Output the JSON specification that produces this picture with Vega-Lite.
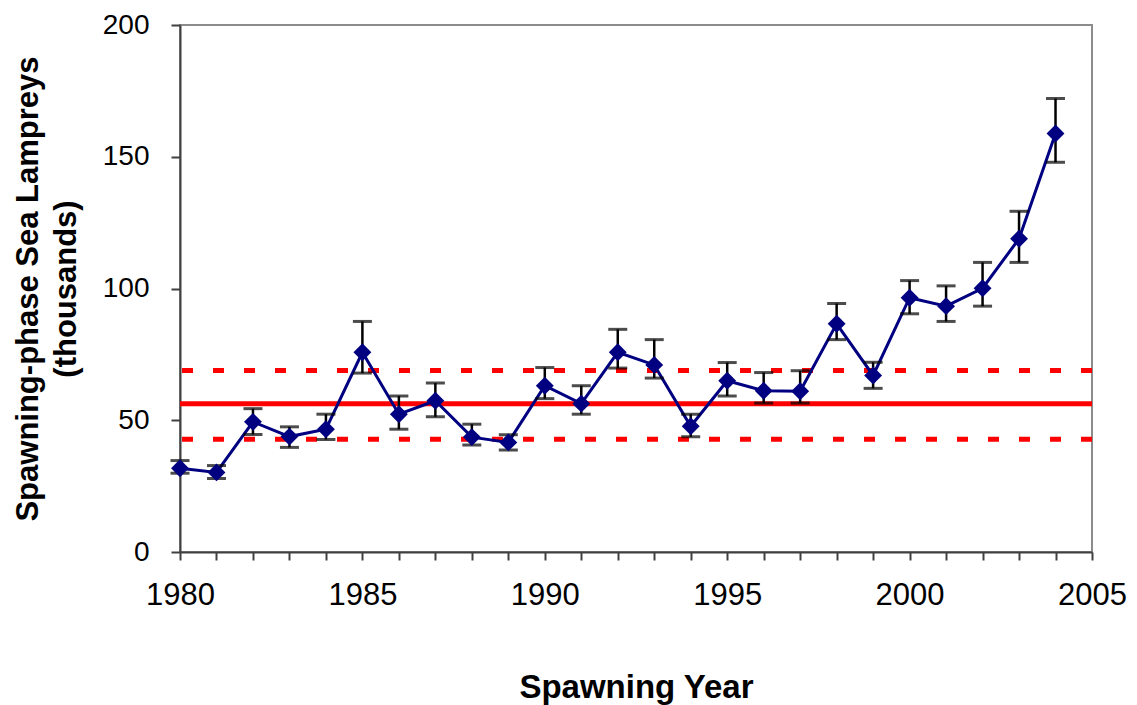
{
  "$schema": "https://vega.github.io/schema/vega-lite/v6.json",
  "width": 912,
  "height": 527,
  "autosize": "none",
  "padding": {"left": 180, "top": 25, "right": 45, "bottom": 153},
  "background": "white",
  "config": {
    "view": {"stroke": "#8c8c8c", "strokeWidth": 2},
    "font": "Liberation Sans",
    "axis": {"grid": false, "domainColor": "#404040", "domainWidth": 2, "tickColor": "#404040", "tickWidth": 2, "labelColor": "black", "titleColor": "black", "labelFont": "Liberation Sans", "titleFont": "Liberation Sans", "labelOverlap": false}
  },
  "datasets": {
    "series": [
      {"year": 1980, "value": 31.8, "lo": 29.9, "hi": 34.7},
      {"year": 1981, "value": 30.2, "lo": 27.9, "hi": 32.8},
      {"year": 1982, "value": 49.4, "lo": 44.6, "hi": 54.4},
      {"year": 1983, "value": 43.8, "lo": 39.7, "hi": 47.5},
      {"year": 1984, "value": 46.6, "lo": 42.7, "hi": 52.3},
      {"year": 1985, "value": 75.8, "lo": 67.9, "hi": 87.5},
      {"year": 1986, "value": 52.3, "lo": 46.6, "hi": 59.2},
      {"year": 1987, "value": 57.4, "lo": 51.3, "hi": 64.1},
      {"year": 1988, "value": 43.6, "lo": 40.6, "hi": 48.5},
      {"year": 1989, "value": 41.6, "lo": 38.7, "hi": 44.5},
      {"year": 1990, "value": 63.1, "lo": 58.2, "hi": 70.0},
      {"year": 1991, "value": 56.3, "lo": 52.3, "hi": 63.1},
      {"year": 1992, "value": 75.8, "lo": 69.8, "hi": 84.5},
      {"year": 1993, "value": 71.0, "lo": 66.0, "hi": 80.6},
      {"year": 1994, "value": 47.7, "lo": 43.7, "hi": 52.3},
      {"year": 1995, "value": 65.0, "lo": 59.2, "hi": 71.9},
      {"year": 1996, "value": 61.2, "lo": 56.5, "hi": 68.1},
      {"year": 1997, "value": 61.0, "lo": 56.5, "hi": 68.8},
      {"year": 1998, "value": 86.6, "lo": 80.6, "hi": 94.3},
      {"year": 1999, "value": 67.0, "lo": 62.1, "hi": 72.0},
      {"year": 2000, "value": 96.5, "lo": 90.4, "hi": 103.0},
      {"year": 2001, "value": 93.3, "lo": 87.5, "hi": 101.0},
      {"year": 2002, "value": 100.1, "lo": 93.3, "hi": 109.9},
      {"year": 2003, "value": 118.9, "lo": 109.9, "hi": 129.3},
      {"year": 2004, "value": 158.8, "lo": 147.9, "hi": 172.1}
    ],
    "refs": [
      {"level": 56.3, "kind": "mean"},
      {"level": 68.9, "kind": "bound"},
      {"level": 42.8, "kind": "bound"}
    ]
  },
  "layer": [
    {
      "data": {"name": "refs"},
      "transform": [{"filter": "datum.kind === 'bound'"}],
      "mark": {"type": "rule", "color": "#ff0000", "strokeWidth": 5, "strokeDash": [11, 20]},
      "encoding": {
        "y": {"field": "level", "type": "quantitative", "scale": {"domain": [0, 200]}}
      }
    },
    {
      "data": {"name": "refs"},
      "transform": [{"filter": "datum.kind === 'mean'"}],
      "mark": {"type": "rule", "color": "#ff0000", "strokeWidth": 5},
      "encoding": {
        "y": {"field": "level", "type": "quantitative", "scale": {"domain": [0, 200]}}
      }
    },
    {
      "data": {"name": "series"},
      "mark": {"type": "line", "color": "#000080", "strokeWidth": 3},
      "encoding": {
        "x": {
          "field": "year", "type": "quantitative",
          "scale": {"domain": [1980, 2005], "nice": false, "zero": false},
          "axis": {
            "values": [1980,1981,1982,1983,1984,1985,1986,1987,1988,1989,1990,1991,1992,1993,1994,1995,1996,1997,1998,1999,2000,2001,2002,2003,2004,2005],
            "tickCount": 40,
            "labelExpr": "datum.value % 5 === 0 ? datum.value : ''",
            "tickSize": 8,
            "labelFontSize": 31,
            "labelPadding": 20,
            "labelFlush": false,
            "labelOverlap": false,
            "labelBound": false,
            "title": "Spawning Year",
            "titleFontSize": 33,
            "titleFontWeight": "bold",
            "titleBaseline": "alphabetic",
            "titleY": 145
          }
        },
        "y": {
          "field": "value", "type": "quantitative",
          "scale": {"domain": [0, 200], "nice": false},
          "axis": {
            "values": [0, 50, 100, 150, 200],
            "tickSize": 9,
            "labelFontSize": 28,
            "labelPadding": 22,
            "title": ["Spawning-phase Sea Lampreys", "(thousands)"],
            "titleFontSize": 31,
            "titleFontWeight": "bold",
            "titleLineHeight": 38,
            "titleAngle": -90,
            "titleAlign": "center",
            "titleBaseline": "middle",
            "titleX": -152,
            "titleY": 263.5
          }
        }
      }
    },
    {
      "data": {"name": "series"},
      "mark": {"type": "rule", "color": "black", "strokeWidth": 2.5},
      "encoding": {
        "x": {"field": "year", "type": "quantitative"},
        "y": {"field": "lo", "type": "quantitative"},
        "y2": {"field": "hi"}
      }
    },
    {
      "data": {"name": "series"},
      "mark": {"type": "tick", "orient": "horizontal", "color": "black", "size": 19, "thickness": 3},
      "encoding": {
        "x": {"field": "year", "type": "quantitative"},
        "y": {"field": "lo", "type": "quantitative"}
      }
    },
    {
      "data": {"name": "series"},
      "mark": {"type": "tick", "orient": "horizontal", "color": "black", "size": 19, "thickness": 3},
      "encoding": {
        "x": {"field": "year", "type": "quantitative"},
        "y": {"field": "hi", "type": "quantitative"}
      }
    },
    {
      "data": {"name": "series"},
      "mark": {"type": "point", "shape": "diamond", "filled": true, "color": "#000080", "opacity": 1, "size": 320},
      "encoding": {
        "x": {"field": "year", "type": "quantitative"},
        "y": {"field": "value", "type": "quantitative"}
      }
    }
  ]
}
